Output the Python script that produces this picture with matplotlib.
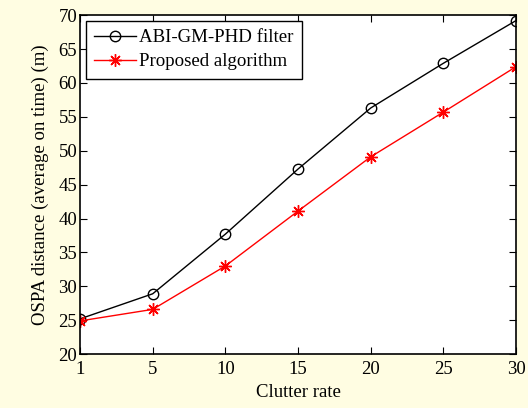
import matplotlib
matplotlib.use("Agg")
import matplotlib.pyplot as plt

clutter = ['1', '5', '10', '15', '20', '25', '30']
abi_gm_phd = [25.2, 28.9, 37.7, 47.3, 56.3, 62.9, 69.2]
proposed = [24.9, 26.6, 33.0, 41.1, 49.1, 55.7, 62.4]
yticks = [20, 25, 30, 35, 40, 45, 50, 55, 60, 65, 70]

plt.rcParams['font.family'] = ['Liberation Serif', 'DejaVu Serif']

bg = '#fffde2'
fig = plt.figure(figsize=(5.28, 4.08), dpi=100, facecolor=bg)
ax = fig.add_axes([0.1515, 0.132, 0.826, 0.831])
pos = list(range(len(clutter)))
ax.plot(pos, abi_gm_phd, color='black', marker='o', markerfacecolor='none',
        markersize=7.5, markeredgewidth=1.0, linewidth=1.0, label='ABI-GM-PHD filter')
ax.plot(pos, proposed, color='red', marker=(8, 2, 0), markersize=9,
        markeredgewidth=1.0, linewidth=1.0, label='Proposed algorithm')
ax.set_xlim(0, len(clutter) - 1)
ax.set_ylim(20, 70)
ax.set_xticks(pos)
ax.set_xticklabels(clutter)
ax.set_yticks(yticks)
ax.tick_params(direction='in', top=True, right=True, labelsize=13.5, length=5, width=0.8)
ax.tick_params(axis='y', pad=2)
ax.tick_params(axis='x', pad=5)
for s in ax.spines.values():
    s.set_linewidth(1.2)
ax.set_xlabel('Clutter rate', fontsize=13.5, labelpad=4)
ax.set_ylabel('OSPA distance (average on time) (m)', fontsize=13.5, labelpad=7)
leg = ax.legend(loc='upper left', fontsize=13.6, fancybox=False, edgecolor='black',
                framealpha=1, borderaxespad=0.3, handlelength=2.2, borderpad=0.45,
                labelspacing=0.35, handletextpad=0.2)
leg.get_frame().set_linewidth(1.0)
fig.savefig('out.png', dpi=100, facecolor=bg)
